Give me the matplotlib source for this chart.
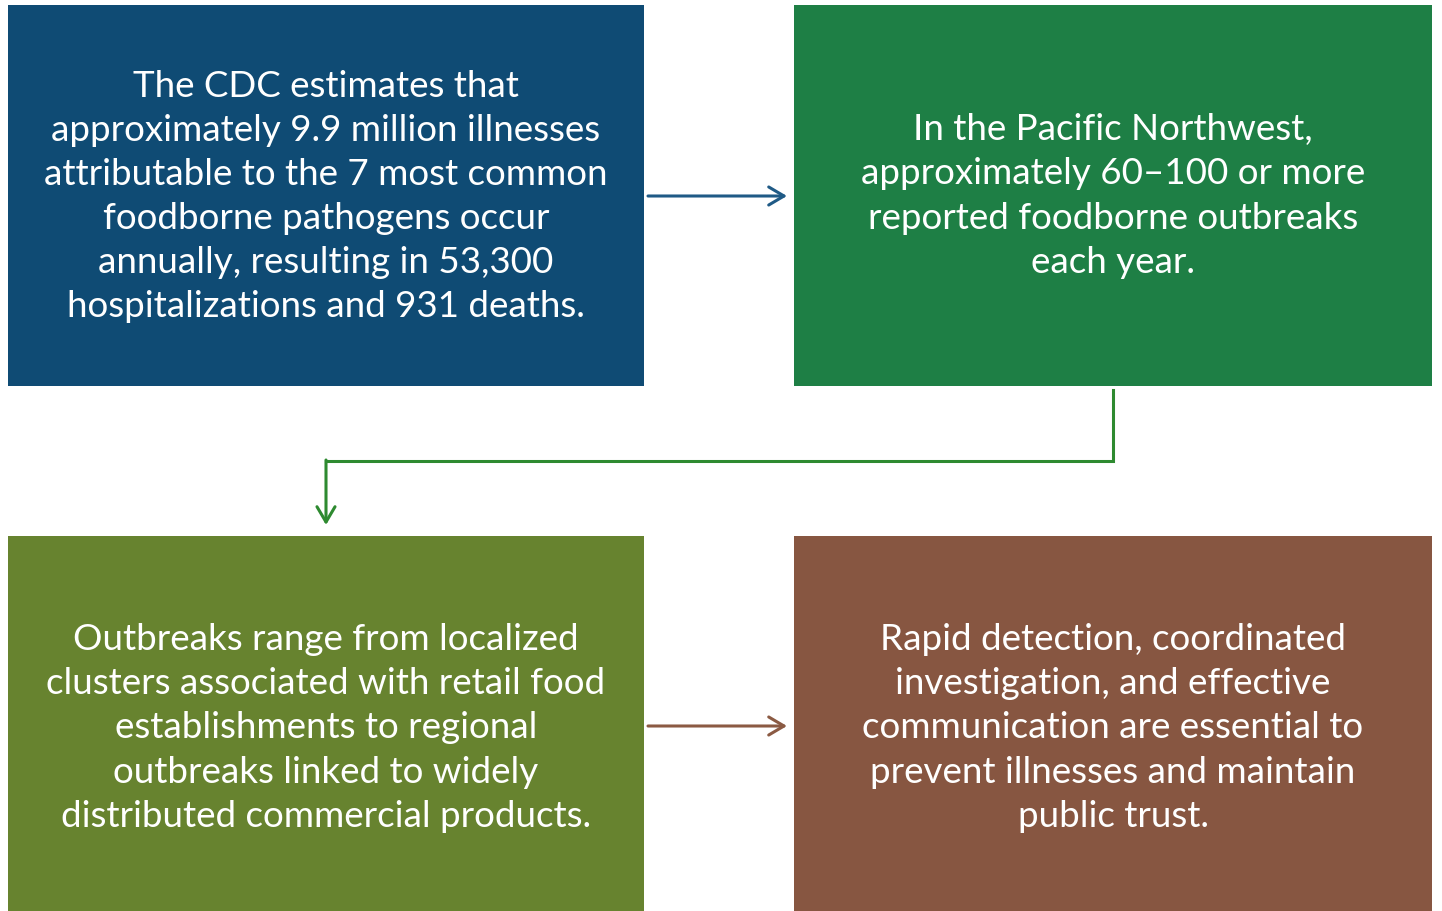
import matplotlib
matplotlib.use("Agg")
import matplotlib.pyplot as plt
from matplotlib.patches import Rectangle

# box texts and colours
texts = [
    "The CDC estimates that\napproximately 9.9 million illnesses\nattributable to the 7 most common\nfoodborne pathogens occur\nannually, resulting in 53,300\nhospitalizations and 931 deaths.",
    "In the Pacific Northwest,\napproximately 60\u2013100 or more\nreported foodborne outbreaks\neach year.",
    "Outbreaks range from localized\nclusters associated with retail food\nestablishments to regional\noutbreaks linked to widely\ndistributed commercial products.",
    "Rapid detection, coordinated\ninvestigation, and effective\ncommunication are essential to\nprevent illnesses and maintain\npublic trust.",
]
box_colors = ["#0F4B74", "#1E7F45", "#67832F", "#875641"]
arrow_colors = ["#1F5A86", "#2E8A30", "#8B5A43"]

# layout in pixels
W, H = 1442, 911
boxes = [(8, 5, 636, 381), (794, 5, 638, 381), (8, 536, 636, 375), (794, 536, 638, 375)]
text_y = [196.5, 196, 728, 728]

plt.rcParams['font.family'] = ['Lato', 'DejaVu Sans']
fig = plt.figure(figsize=(W / 100, H / 100), dpi=100)
ax = fig.add_axes([0, 0, 1, 1])
ax.set_xlim(0, W)
ax.set_ylim(H, 0)
ax.axis("off")

for (x, y, w, h), c, t, ty in zip(boxes, box_colors, texts, text_y):
    ax.add_patch(Rectangle((x, y), w, h, facecolor=c, edgecolor="none"))
    ax.text(x + w / 2, ty, t, ha="center", va="center", color="white",
            fontsize=26.5, linespacing=1.41)

akw = dict(arrowstyle="->,head_length=1.1,head_width=0.65", lw=2.2, shrinkA=0, shrinkB=0)
# horizontal arrows
ax.annotate("", xy=(787, 196), xytext=(648, 196),
            arrowprops=dict(color=arrow_colors[0], **akw))
ax.annotate("", xy=(787, 726), xytext=(648, 726),
            arrowprops=dict(color=arrow_colors[2], **akw))
# elbow arrow
ax.plot([1113, 1113, 326], [390, 461, 461], color=arrow_colors[1], lw=2.2,
        solid_joinstyle="miter")
ax.annotate("", xy=(326, 525), xytext=(326, 460),
            arrowprops=dict(color=arrow_colors[1], **akw))

fig.savefig("out.png", dpi=100)
